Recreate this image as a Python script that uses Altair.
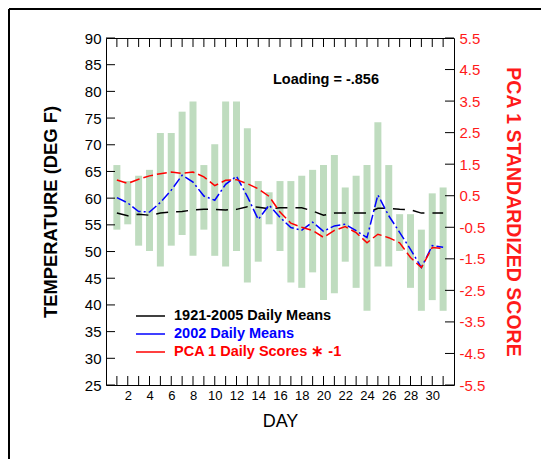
import altair as alt
import pandas as pd

days = list(range(1, 32))

bar_high = [66.2, 63.2, 64.2, 65.3, 72.2, 72.2, 76.2, 78.1, 66.2, 70.1, 78.1, 78.1, 73.1, 63.2, 61.1, 63.2,
            63.2, 64.2, 65.3, 66.2, 68.1, 62.0, 64.2, 66.2, 74.2, 66.2, 57.0, 57.0, 54.1, 60.9, 62.0]
bar_low = [54.1, 55.1, 51.1, 50.1, 47.2, 51.1, 53.1, 49.2, 54.1, 49.2, 47.2, 50.1, 44.2, 48.1, 55.1, 50.1,
           44.2, 43.2, 46.1, 40.9, 42.2, 48.1, 43.2, 38.9, 47.2, 47.2, 50.1, 43.2, 38.9, 40.9, 38.9]

clim_means = [57.2, 56.7, 57.0, 56.8, 57.2, 57.4, 57.5, 57.8, 57.9, 57.9, 57.8, 57.9, 58.4, 58.3, 58.0, 58.2,
              58.2, 58.2, 57.6, 56.8, 57.2, 57.2, 57.2, 57.2, 58.1, 58.1, 57.9, 57.8, 57.2, 57.2, 57.2]
means_2002 = [60.1, 59.1, 57.5, 57.4, 59.2, 61.5, 64.3, 63.0, 60.4, 59.6, 62.6, 64.1, 60.3, 56.0, 58.7, 56.4,
              54.5, 54.0, 55.5, 53.8, 54.8, 55.1, 53.9, 52.6, 60.6, 56.7, 53.6, 50.4, 47.0, 51.1, 50.8]
pca_scores = [1.00, 0.89, 1.02, 1.13, 1.20, 1.25, 1.21, 1.25, 1.10, 0.82, 0.99, 1.01, 0.88, 0.72, 0.48, -0.02,
              -0.37, -0.50, -0.60, -0.82, -0.60, -0.48, -0.67, -0.99, -0.72, -0.83, -0.99, -1.46, -1.78, -1.14, -1.17]

temp_ticks = [25, 30, 35, 40, 45, 50, 55, 60, 65, 70, 75, 80, 85, 90]
score_ticks = [-5.5, -4.5, -3.5, -2.5, -1.5, -0.5, 0.5, 1.5, 2.5, 3.5, 4.5, 5.5]
day_labels = [2, 4, 6, 8, 10, 12, 14, 16, 18, 20, 22, 24, 26, 28, 30]

legend_labels = ["1921-2005 Daily Means", "2002 Daily Means", "PCA 1 Daily Scores \u2217 -1"]
legend_colors = ["#000000", "#0000ff", "#ff0000"]
annotation = "Loading = -.856"

W, H = 348, 347
FONT = "Liberation Sans"

xs = alt.Scale(domain=[0, 32], nice=False, zero=False, padding=0)
ts = alt.Scale(domain=[25, 90], nice=False, zero=False)
ss = alt.Scale(domain=[-5.5, 5.5], nice=False, zero=False)

bars_df = pd.DataFrame({"day": days, "lo": bar_low, "hi": bar_high})
clim_df = pd.DataFrame({"day": days, "temp": clim_means})
y02_df = pd.DataFrame({"day": days, "temp": means_2002})
pca_df = pd.DataFrame({"day": days, "score": pca_scores})
tt_df = pd.DataFrame({"v": temp_ticks})
st_df = pd.DataFrame({"v": score_ticks})
dt_df = pd.DataFrame({"day": days})
one = pd.DataFrame({"a": [0]})

x_axis = alt.Axis(values=day_labels, ticks=False, domain=False, grid=False, labelFont=FONT,
                  labelFontSize=13, labelColor="black", labelPadding=4, title="DAY",
                  titleFont=FONT, titleFontSize=18, titleFontWeight="normal", titleColor="black",
                  titlePadding=10, labelFlush=False)
left_axis = alt.Axis(orient="left", values=temp_ticks, ticks=False, domain=False, grid=False,
                     labelFont=FONT, labelFontSize=15, labelColor="black", labelPadding=5,
                     title="TEMPERATURE (DEG F)", titleFont=FONT, titleFontSize=18.4,
                     titleFontWeight="bold", titleColor="black", titlePadding=24)
right_axis = alt.Axis(orient="right", values=score_ticks, ticks=False, domain=False, grid=False,
                      labelExpr="datum.value < 0 ? '-' + format(abs(datum.value), '.1f') : format(datum.value, '.1f')",
                      labelFont=FONT, labelFontSize=15, labelColor="#ff1a1a",
                      labelPadding=5, title="PCA 1 STANDARDIZED SCORE", titleFont=FONT,
                      titleFontSize=19.5, titleFontWeight="bold", titleColor="#ff1a1a",
                      titlePadding=18)

X = alt.X("day:Q", scale=xs, axis=x_axis)

bars = alt.Chart(bars_df).mark_bar(size=7, color="#bfdcbf").encode(
    x=X,
    y=alt.Y("lo:Q", scale=ts, axis=left_axis),
    y2="hi:Q",
)
clim = alt.Chart(clim_df).mark_line(color="black", strokeWidth=1.5, strokeDash=[12, 8]).encode(
    x=X, y=alt.Y("temp:Q", scale=ts, axis=left_axis),
)
y02 = alt.Chart(y02_df).mark_line(color="#0000ff", strokeWidth=1.5, strokeDash=[10, 3, 2, 3]).encode(
    x=X, y=alt.Y("temp:Q", scale=ts, axis=left_axis),
)
lticks = alt.Chart(tt_df).mark_rule(color="black", strokeWidth=1).encode(
    y=alt.Y("v:Q", scale=ts, axis=left_axis), x=alt.value(0), x2=alt.value(9)
)
top_ticks = alt.Chart(dt_df).mark_rule(color="black", strokeWidth=1).encode(
    x=X, y=alt.value(0), y2=alt.value(9)
)
bot_ticks = alt.Chart(dt_df).mark_rule(color="black", strokeWidth=1).encode(
    x=X, y=alt.value(H - 9), y2=alt.value(H)
)
temp_layer = alt.layer(bars, clim, y02, lticks, top_ticks, bot_ticks)

pca = alt.Chart(pca_df).mark_line(color="#ff0000", strokeWidth=1.5, strokeDash=[10, 4]).encode(
    x=X, y=alt.Y("score:Q", scale=ss, axis=right_axis),
)
rticks = alt.Chart(st_df).mark_rule(color="black", strokeWidth=1).encode(
    y=alt.Y("v:Q", scale=ss, axis=right_axis), x=alt.value(W - 9), x2=alt.value(W)
)
score_layer = alt.layer(pca, rticks)

ann = alt.Chart(one).mark_text(text=annotation, font=FONT, fontSize=14.5, fontWeight="bold",
                               color="black", align="center", baseline="middle").encode(
    x=alt.value(220), y=alt.value(42)
)

legend_layers = []
leg_y = [278, 296, 314]
for lab, col, yy in zip(legend_labels, legend_colors, leg_y):
    legend_layers.append(
        alt.Chart(one).mark_rule(color=col, strokeWidth=1.5).encode(
            x=alt.value(30), x2=alt.value(59), y=alt.value(yy)
        )
    )
    legend_layers.append(
        alt.Chart(one).mark_text(text=lab, font=FONT, fontSize=14.5, fontWeight="bold", color=col,
                                 align="left", baseline="middle").encode(
            x=alt.value(68), y=alt.value(yy)
        )
    )

border_top = alt.Chart(one).mark_rule(color="black", strokeWidth=2).encode(
    x=alt.value(-97), x2=alt.value(600), y=alt.value(-29)
)
border_left = alt.Chart(one).mark_rule(color="black", strokeWidth=2).encode(
    x=alt.value(-97), y=alt.value(-29), y2=alt.value(600)
)

chart = alt.layer(
    border_top, border_left, temp_layer, score_layer, ann, *legend_layers
).resolve_scale(y="independent").properties(
    width=W, height=H,
    autosize=alt.AutoSizeParams(type="none"),
    padding={"left": 98, "top": 30, "right": 87, "bottom": 74},
    background="white",
).configure_view(stroke="black", strokeWidth=1)

chart.save("out.html", embed_options={"renderer": "svg", "actions": False})
